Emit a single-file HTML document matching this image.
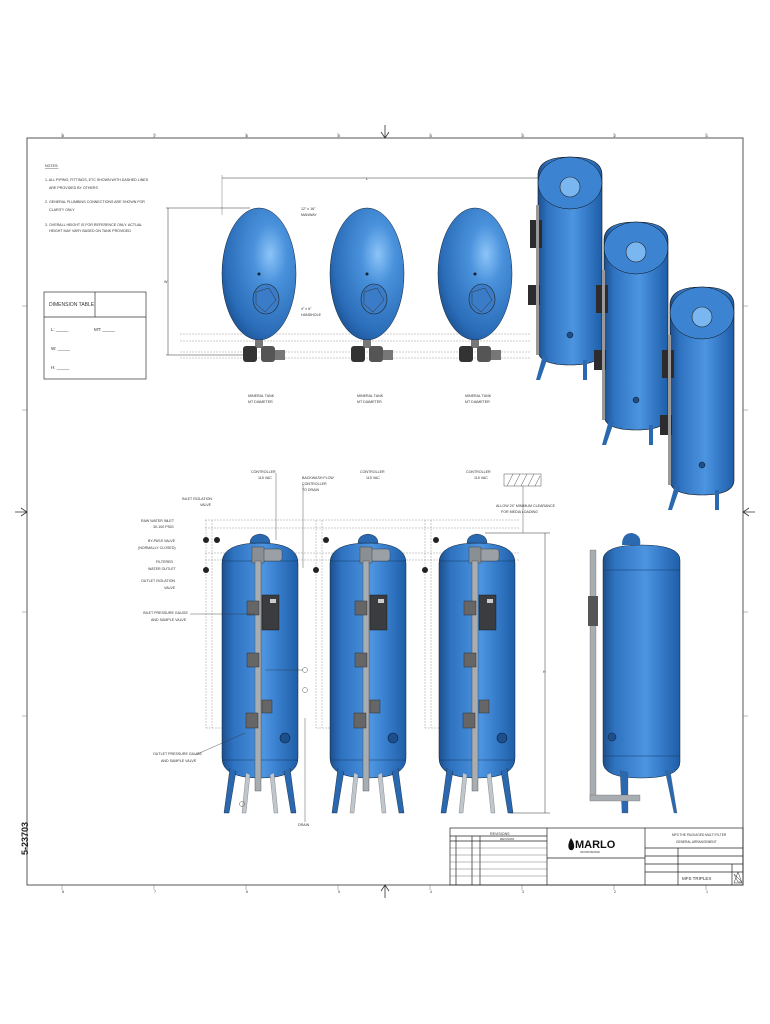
<!DOCTYPE html>
<html><head><meta charset="utf-8"><style>
html,body{margin:0;padding:0;background:#fff;}
svg{display:block;font-family:"Liberation Sans",sans-serif;}
text{fill:#333;font-size:3.6px;}
</style></head><body>
<svg width="770" height="1024" viewBox="0 0 770 1024" xmlns="http://www.w3.org/2000/svg">
<defs>
<linearGradient id="vt" x1="0" x2="1" y1="0" y2="0">
<stop offset="0" stop-color="#1d4f8c"/><stop offset="0.15" stop-color="#2e72c0"/>
<stop offset="0.55" stop-color="#4d95e0"/><stop offset="0.7" stop-color="#3b82d0"/>
<stop offset="1" stop-color="#1f5ea8"/></linearGradient>
<radialGradient id="sp" cx="0.65" cy="0.35" r="0.75">
<stop offset="0" stop-color="#8cc4f8"/><stop offset="0.3" stop-color="#4a92dc"/>
<stop offset="0.8" stop-color="#2a6cb8"/><stop offset="1" stop-color="#1b4f8e"/></radialGradient>
<g id="vtank">
<path d="M0 20 Q0 0 38 0 Q76 0 76 20 L76 215 Q76 235 38 235 Q0 235 0 215 Z" fill="url(#vt)" stroke="#123" stroke-width="0.5"/>
<line x1="0" y1="18" x2="76" y2="18" stroke="#143a66" stroke-width="0.6"/>
<line x1="0" y1="217" x2="76" y2="217" stroke="#143a66" stroke-width="0.6"/>
<path d="M8 225 L2 270 L7 270 L14 228 M68 225 L74 270 L69 270 L62 228" fill="#2a68b0" stroke="#123" stroke-width="0.4"/>
<path d="M24 230 L20 270 L24 270 L28 232 M52 230 L56 270 L52 270 L48 232" fill="#bfc6cc" stroke="#555" stroke-width="0.3"/>
<path d="M28 0 Q28 -8 38 -9 Q48 -8 48 0 Z" fill="#2a68b0" stroke="#123" stroke-width="0.4"/>
<rect x="40" y="6" width="20" height="12" rx="3" fill="#9aa0a6" stroke="#333" stroke-width="0.4"/>
<rect x="30" y="4" width="12" height="16" fill="#8a8f94" stroke="#333" stroke-width="0.4"/>
<rect x="33" y="18" width="6" height="230" fill="#a8adb2" stroke="#444" stroke-width="0.4"/>
<rect x="40" y="52" width="17" height="35" fill="#3a3c40" stroke="#111" stroke-width="0.4"/>
<rect x="48" y="56" width="6" height="4" fill="#ccc"/>
<rect x="25" y="58" width="12" height="14" fill="#666" stroke="#222" stroke-width="0.4"/>
<rect x="25" y="110" width="12" height="14" fill="#666" stroke="#222" stroke-width="0.4"/>
<rect x="40" y="157" width="10" height="13" fill="#666" stroke="#222" stroke-width="0.4"/>
<rect x="24" y="170" width="12" height="15" fill="#666" stroke="#222" stroke-width="0.4"/>
<circle cx="63" cy="195" r="5" fill="#1d4f8c" stroke="#0b2240" stroke-width="0.6"/>
</g>
<g id="sph">
<ellipse cx="0" cy="0" rx="37" ry="66" fill="url(#sp)" stroke="#123" stroke-width="0.5"/>
<ellipse cx="7" cy="25" rx="13" ry="15" fill="#3a7cc8" stroke="#222" stroke-width="0.6"/>
<path d="M-3 18 L10 14 L17 26 L6 38 L-3 30 Z" fill="none" stroke="#333" stroke-width="0.5"/>
<circle cx="0" cy="0" r="1.5" fill="#123"/>
<rect x="-4" y="66" width="8" height="8" fill="#777"/>
<rect x="-16" y="72" width="14" height="16" rx="3" fill="#333"/>
<rect x="2" y="72" width="14" height="16" rx="3" fill="#555"/>
<rect x="16" y="76" width="10" height="10" fill="#777"/>
</g>
<g id="iso">
<path d="M0 10 Q0 -8 32 -8 Q64 -8 64 10 L64 185 Q64 200 32 200 Q0 200 0 185 Z" fill="url(#vt)" stroke="#111" stroke-width="0.6"/>
<ellipse cx="32" cy="18" rx="32" ry="26" fill="#3c84d2" stroke="#111" stroke-width="0.5"/>
<circle cx="32" cy="22" r="10" fill="#7ab6f0" stroke="#222" stroke-width="0.6"/>
<rect x="-8" y="55" width="12" height="28" fill="#2c2c2e"/>
<rect x="-10" y="120" width="12" height="20" fill="#2c2c2e"/>
<rect x="-2" y="40" width="3" height="150" fill="#999"/>
<path d="M5 190 L-2 215 L2 215 L10 192 M45 195 L45 215 L49 215 L49 195" fill="#2a68b0"/>
<circle cx="32" cy="170" r="3" fill="#1d4f8c" stroke="#111" stroke-width="0.5"/>
</g>
</defs>

<!-- frame -->
<rect x="27" y="138" width="716" height="747" fill="none" stroke="#555" stroke-width="1"/>
<g stroke="#777" stroke-width="0.5">
<line x1="62" y1="133" x2="62" y2="138"/><line x1="154" y1="133" x2="154" y2="138"/><line x1="246" y1="133" x2="246" y2="138"/><line x1="338" y1="133" x2="338" y2="138"/><line x1="430" y1="133" x2="430" y2="138"/><line x1="522" y1="133" x2="522" y2="138"/><line x1="614" y1="133" x2="614" y2="138"/><line x1="706" y1="133" x2="706" y2="138"/>
<line x1="62" y1="885" x2="62" y2="890"/><line x1="154" y1="885" x2="154" y2="890"/><line x1="246" y1="885" x2="246" y2="890"/><line x1="338" y1="885" x2="338" y2="890"/><line x1="430" y1="885" x2="430" y2="890"/><line x1="522" y1="885" x2="522" y2="890"/><line x1="614" y1="885" x2="614" y2="890"/><line x1="706" y1="885" x2="706" y2="890"/>
<line x1="22" y1="306" x2="27" y2="306"/><line x1="22" y1="410" x2="27" y2="410"/><line x1="22" y1="612" x2="27" y2="612"/><line x1="22" y1="716" x2="27" y2="716"/>
<line x1="743" y1="306" x2="748" y2="306"/><line x1="743" y1="410" x2="748" y2="410"/><line x1="743" y1="612" x2="748" y2="612"/><line x1="743" y1="716" x2="748" y2="716"/>
</g>
<path d="M385 125 L385 138 M381 132 L385 138 L389 132" stroke="#333" fill="none" stroke-width="0.8"/>
<path d="M385 898 L385 885 M381 891 L385 885 L389 891" stroke="#333" fill="none" stroke-width="0.8"/>
<path d="M15 512 L27 512 M21 508 L27 512 L21 516" stroke="#333" fill="none" stroke-width="0.8"/>
<path d="M755 512 L743 512 M749 508 L743 512 L749 516" stroke="#333" fill="none" stroke-width="0.8"/>
<text x="62" y="137">8</text><text x="154" y="137">7</text><text x="246" y="137">6</text><text x="338" y="137">5</text><text x="430" y="137">4</text><text x="522" y="137">3</text><text x="614" y="137">2</text><text x="706" y="137">1</text>
<text x="62" y="893">8</text><text x="154" y="893">7</text><text x="246" y="893">6</text><text x="338" y="893">5</text><text x="430" y="893">4</text><text x="522" y="893">3</text><text x="614" y="893">2</text><text x="706" y="893">1</text>

<!-- notes -->
<text x="45" y="167" style="text-decoration:underline">NOTES:</text>
<text x="45" y="181">1. ALL PIPING, FITTINGS, ETC SHOWN WITH DASHED LINES</text>
<text x="49" y="189">ARE PROVIDED BY OTHERS</text>
<text x="45" y="203">2. GENERAL PLUMBING CONNECTIONS ARE SHOWN FOR</text>
<text x="49" y="211">CLARITY ONLY</text>
<text x="45" y="226">3. OVERALL HEIGHT IS FOR REFERENCE ONLY. ACTUAL</text>
<text x="49" y="232">HEIGHT MAY VARY BASED ON TANK PROVIDED</text>
<rect x="44" y="292" width="102" height="87" fill="none" stroke="#333" stroke-width="0.7"/>
<line x1="44" y1="317" x2="146" y2="317" stroke="#333" stroke-width="0.7"/>
<line x1="95" y1="292" x2="95" y2="317" stroke="#333" stroke-width="0.7"/>
<text x="49" y="306" style="font-size:5px">DIMENSION TABLE</text>
<text x="51" y="331" style="font-size:4.5px">L: _____</text><text x="94" y="331" style="font-size:4.5px">MT: _____</text>
<text x="51" y="350" style="font-size:4.5px">W: _____</text>
<text x="51" y="369" style="font-size:4.5px">H: _____</text>

<!-- top row -->
<line x1="222" y1="178" x2="540" y2="178" stroke="#333" stroke-width="0.5"/>
<line x1="222" y1="175" x2="222" y2="215" stroke="#555" stroke-width="0.4"/>
<text x="366" y="180">L</text>
<line x1="166" y1="208" x2="250" y2="208" stroke="#333" stroke-width="0.5"/>
<line x1="166" y1="355" x2="250" y2="355" stroke="#333" stroke-width="0.5"/>
<line x1="168" y1="208" x2="168" y2="355" stroke="#333" stroke-width="0.5"/>
<text x="164" y="283">W</text>
<g stroke="#999" stroke-width="0.5" stroke-dasharray="2,1" fill="none">
<line x1="180" y1="334" x2="530" y2="334"/><line x1="180" y1="341" x2="530" y2="341"/>
<line x1="180" y1="352" x2="530" y2="352"/><line x1="180" y1="358" x2="530" y2="358"/>
</g>
<use href="#sph" x="259" y="274"/>
<use href="#sph" x="367" y="274"/>
<use href="#sph" x="475" y="274"/>
<text x="301" y="210">12" x 16"</text><text x="301" y="216">MANWAY</text>
<text x="301" y="310">4" x 6"</text><text x="301" y="316">HANDHOLE</text>
<text x="248" y="397">MINERAL TANK</text><text x="248" y="403">MT DIAMETER</text>
<text x="357" y="397">MINERAL TANK</text><text x="357" y="403">MT DIAMETER</text>
<text x="465" y="397">MINERAL TANK</text><text x="465" y="403">MT DIAMETER</text>

<!-- iso tanks -->
<use href="#iso" x="538" y="165"/>
<use href="#iso" x="604" y="230"/>
<use href="#iso" x="670" y="295"/>

<!-- front row -->
<g stroke="#999" stroke-width="0.5" stroke-dasharray="2,1" fill="none">
<line x1="205" y1="520" x2="520" y2="520"/><line x1="205" y1="528" x2="520" y2="528"/>
<line x1="205" y1="553" x2="520" y2="553"/><line x1="205" y1="560" x2="520" y2="560"/>
<line x1="206" y1="520" x2="206" y2="728"/><line x1="212" y1="520" x2="212" y2="728"/>
<line x1="316" y1="520" x2="316" y2="728"/><line x1="322" y1="520" x2="322" y2="728"/>
<line x1="425" y1="520" x2="425" y2="728"/><line x1="431" y1="520" x2="431" y2="728"/>
<line x1="206" y1="728" x2="260" y2="728"/><line x1="316" y1="728" x2="370" y2="728"/><line x1="425" y1="728" x2="478" y2="728"/>
</g>
<circle cx="206" cy="540" r="3" fill="#222"/><circle cx="217" cy="540" r="3" fill="#222"/><circle cx="206" cy="570" r="3" fill="#222"/>
<circle cx="326" cy="540" r="3" fill="#222"/><circle cx="316" cy="570" r="3" fill="#222"/><circle cx="436" cy="540" r="3" fill="#222"/><circle cx="425" cy="570" r="3" fill="#222"/>
<use href="#vtank" x="222" y="543"/>
<use href="#vtank" x="330" y="543"/>
<use href="#vtank" x="439" y="543"/>
<!-- side tank -->
<path d="M603 560 Q603 545 641 545 Q680 545 680 560 L680 762 Q680 778 641 778 Q603 778 603 762 Z" fill="url(#vt)" stroke="#123" stroke-width="0.5"/>
<line x1="603" y1="570" x2="680" y2="570" stroke="#143a66" stroke-width="0.5"/>
<line x1="603" y1="756" x2="680" y2="756" stroke="#143a66" stroke-width="0.5"/>
<path d="M622 545 Q622 533 632 533 Q642 535 640 545 Z" fill="#2a68b0"/>
<path d="M620 770 L622 813 L628 813 L628 772 M665 770 L674 813 L677 813 L670 770" fill="#2a68b0" stroke="#555" stroke-width="0.3"/>
<rect x="590" y="550" width="6" height="250" fill="#a8adb2" stroke="#555" stroke-width="0.3"/>
<rect x="588" y="596" width="10" height="30" fill="#555"/>
<rect x="590" y="795" width="50" height="6" fill="#a8adb2" stroke="#555" stroke-width="0.3"/>
<circle cx="612" cy="737" r="4" fill="#1d4f8c" stroke="#111" stroke-width="0.4"/>
<!-- dims right -->
<line x1="545" y1="533" x2="545" y2="813" stroke="#333" stroke-width="0.5"/>
<line x1="485" y1="533" x2="550" y2="533" stroke="#333" stroke-width="0.5"/>
<line x1="510" y1="813" x2="550" y2="813" stroke="#333" stroke-width="0.5"/>
<text x="543" y="673">H</text>
<rect x="504" y="474" width="37" height="12" fill="none" stroke="#555" stroke-width="0.5"/>
<path d="M507 486 L513 474 M514 486 L520 474 M521 486 L527 474 M528 486 L534 474 M535 486 L540 476" stroke="#555" stroke-width="0.5"/>
<line x1="523" y1="486" x2="523" y2="533" stroke="#333" stroke-width="0.4"/>
<text x="496" y="507">ALLOW 24" MINIMUM CLEARANCE</text><text x="501" y="513">FOR MEDIA LOADING</text>
<!-- labels -->
<text x="251" y="473">CONTROLLER</text><text x="258" y="479">115 VAC</text>
<text x="302" y="479">BACKWASH FLOW</text><text x="302" y="485">CONTROLLER</text><text x="302" y="491">TO DRAIN</text>
<text x="360" y="473">CONTROLLER</text><text x="366" y="479">115 VAC</text>
<text x="466" y="473">CONTROLLER</text><text x="474" y="479">115 VAC</text>
<text x="182" y="500">INLET ISOLATION</text><text x="200" y="506">VALVE</text>
<text x="141" y="522">RAW WATER INLET</text><text x="153" y="528">30-100 PSIG</text>
<text x="148" y="542">BY-PASS VALVE</text><text x="138" y="549">(NORMALLY CLOSED)</text>
<text x="156" y="563">FILTERED</text><text x="148" y="570">WATER OUTLET</text>
<text x="141" y="582">OUTLET ISOLATION</text><text x="164" y="589">VALVE</text>
<text x="143" y="614">INLET PRESSURE GAUGE</text><text x="151" y="621">AND SAMPLE VALVE</text>
<text x="153" y="755">OUTLET PRESSURE GAUGE</text><text x="161" y="762">AND SAMPLE VALVE</text>
<text x="298" y="826">DRAIN</text>
<g stroke="#333" stroke-width="0.4" fill="none">
<line x1="190" y1="614" x2="255" y2="614"/><line x1="195" y1="755" x2="245" y2="733"/>
<line x1="265" y1="670" x2="303" y2="670"/><circle cx="305" cy="670" r="2.5"/><circle cx="305" cy="690" r="2.5"/><circle cx="242" cy="804" r="2.5"/>
<line x1="303" y1="484" x2="303" y2="568"/><line x1="276" y1="473" x2="276" y2="540"/>
<line x1="305" y1="718" x2="305" y2="822"/>
</g>

<!-- title block -->
<g stroke="#222" stroke-width="0.7" fill="none">
<rect x="450" y="828" width="293" height="57"/>
<line x1="547" y1="828" x2="547" y2="885"/><line x1="645" y1="828" x2="645" y2="885"/>
<line x1="547" y1="858" x2="645" y2="858"/>
<line x1="645" y1="848" x2="743" y2="848"/><line x1="645" y1="856" x2="743" y2="856"/><line x1="645" y1="864" x2="743" y2="864"/><line x1="645" y1="872" x2="743" y2="872"/>
<line x1="678" y1="848" x2="678" y2="885"/><line x1="732" y1="864" x2="732" y2="885"/>
<line x1="450" y1="836" x2="547" y2="836"/><line x1="450" y1="841" x2="547" y2="841"/>
<line x1="456" y1="836" x2="456" y2="885"/><line x1="472" y1="836" x2="472" y2="885"/><line x1="480" y1="836" x2="480" y2="885"/>
</g>
<g stroke="#555" stroke-width="0.4">
<line x1="450" y1="848" x2="547" y2="848"/><line x1="450" y1="855" x2="547" y2="855"/><line x1="450" y1="862" x2="547" y2="862"/><line x1="450" y1="869" x2="547" y2="869"/><line x1="450" y1="876" x2="547" y2="876"/>
</g>
<text x="490" y="835">REVISIONS</text><text x="500" y="840" style="font-size:3px">REVISION</text>
<text x="575" y="848" style="font-size:11px;font-weight:bold;fill:#111">MARLO</text>
<path d="M571 838 Q567 845 569 849 Q572 852 574 848 Q575 844 571 838 Z" fill="#111"/>
<text x="580" y="853" style="font-size:2.5px">INCORPORATED</text>
<text x="672" y="836" style="font-size:3.2px">MFS THE PACKAGED MULTI FILTER</text>
<text x="676" y="843" style="font-size:3.2px">GENERAL ARRANGEMENT</text>
<text x="682" y="880" style="font-size:4.5px">MFS TRIPLEX</text>
<path d="M738 882 L734 874 L742 882 Z M738 872 L734 883 L742 883 Z" fill="none" stroke="#333" stroke-width="0.5"/>
<text x="28" y="855" transform="rotate(-90 28 855)" style="font-size:9px;font-weight:bold;fill:#222">5-23703</text>
</svg>
</body></html>
